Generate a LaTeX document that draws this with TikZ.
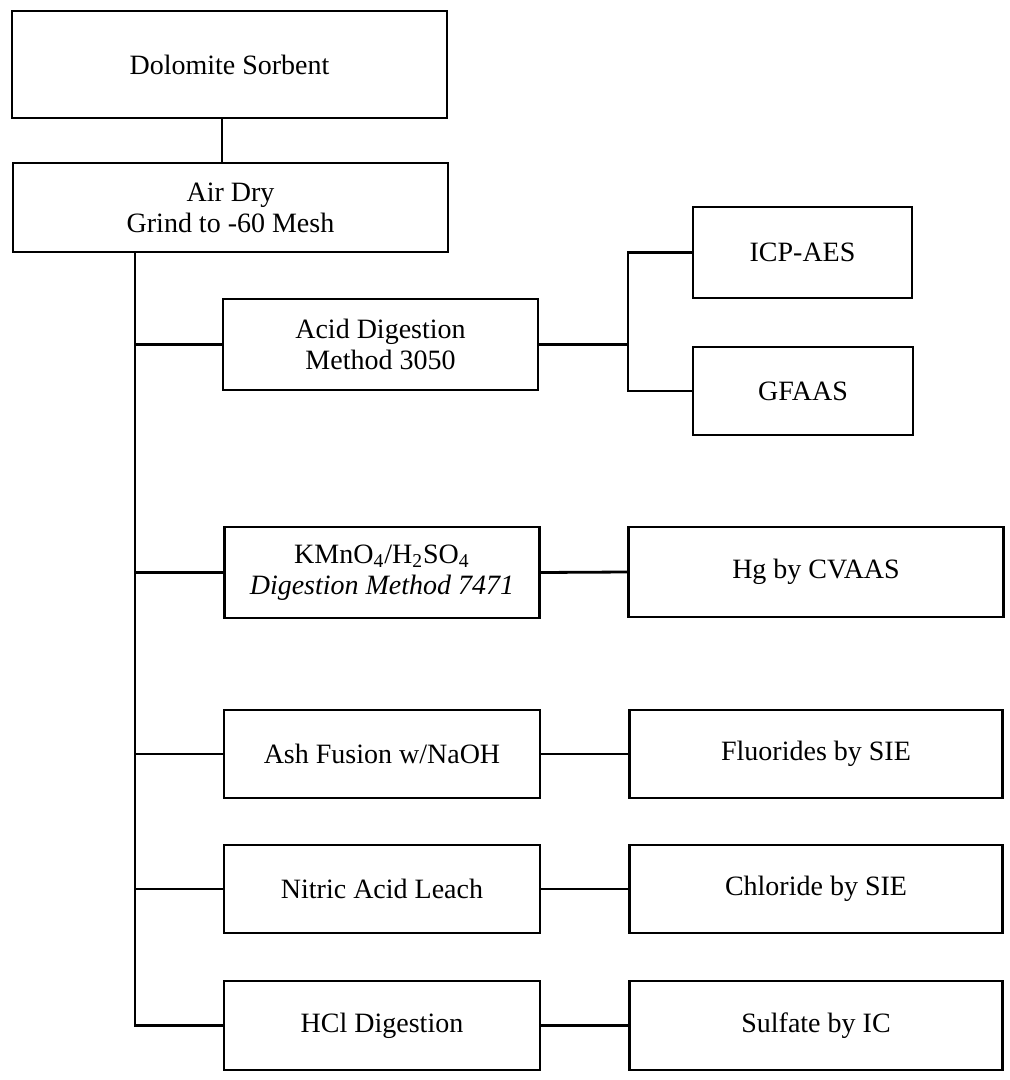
\documentclass[tikz,border=0pt]{standalone}
\usepackage{fontspec}
\setmainfont{Liberation Serif}
\begin{document}
\begin{tikzpicture}[x=0.5pt,y=-0.5pt,
  every node/.style={font=\fontsize{14}{15.5}\selectfont, align=center, inner sep=0pt},
  box/.style={draw, line width=1.4pt, minimum width=#1*0.5pt},
  link/.style={line width=1.4pt}]
\useasboundingbox[fill=white] (0,0) rectangle (1010,1080);
% main column
\node[box=435, minimum height=53.5pt] (dol) at (229.5,64.5) {Dolomite Sorbent};
\node[box=435, minimum height=44.5pt] (air) at (230.5,207.5) {Air Dry\\Grind to -60 Mesh};
% preparation boxes
\node[box=315, minimum height=45.5pt] (acid) at (380.5,344.5) {Acid Digestion\\Method 3050};
\node[box=315, minimum height=45.5pt] (kmn) at (382,572.5) {KMnO\textsubscript{4}/H\textsubscript{2}SO\textsubscript{4}\\\textit{Digestion Method 7471}};
\node[box=316, minimum height=44pt] (ash) at (382,754) {Ash Fusion w/NaOH};
\node[box=316, minimum height=44pt] (nit) at (382,889) {Nitric Acid Leach};
\node[box=316, minimum height=44.5pt] (hcl) at (382,1025.5) {HCl Digestion};
% analysis boxes
\node[box=219, minimum height=45.5pt] (icp) at (802.5,252.5) {ICP-AES};
\node[box=220, minimum height=44pt] (gfa) at (803,391) {GFAAS};
\node[box=375, minimum height=45pt] (hg) at (816,572) {Hg by CVAAS};
\node[box=373, minimum height=44pt] (flu) at (816,754) {Fluorides by SIE};
\node[box=373, minimum height=44pt] (chl) at (816,889) {Chloride by SIE};
\node[box=373, minimum height=44.5pt] (sul) at (816,1025.5) {Sulfate by IC};
% helper coordinates
\coordinate (cx) at (222,0);
\coordinate (tx) at (135,0);
\coordinate (bj) at (628,344.5);
% connectors
\draw[link] (dol.south -| cx) -- (air.north -| cx);
\draw[link] (air.south -| tx) |- (hcl.west);
\draw[link] (acid.west -| tx) -- (acid.west);
\draw[link] (kmn.west -| tx) -- (kmn.west);
\draw[link] (ash.west -| tx) -- (ash.west);
\draw[link] (nit.west -| tx) -- (nit.west);
\draw[link] (acid.east) -- (bj);
\draw[link] (icp.west) -| (bj) |- (gfa.west);
\draw[link] (kmn.east) -- (hg.west);
\draw[link] (ash.east) -- (flu.west);
\draw[link] (nit.east) -- (chl.west);
\draw[link] (hcl.east) -- (sul.west);
\end{tikzpicture}
\end{document}
